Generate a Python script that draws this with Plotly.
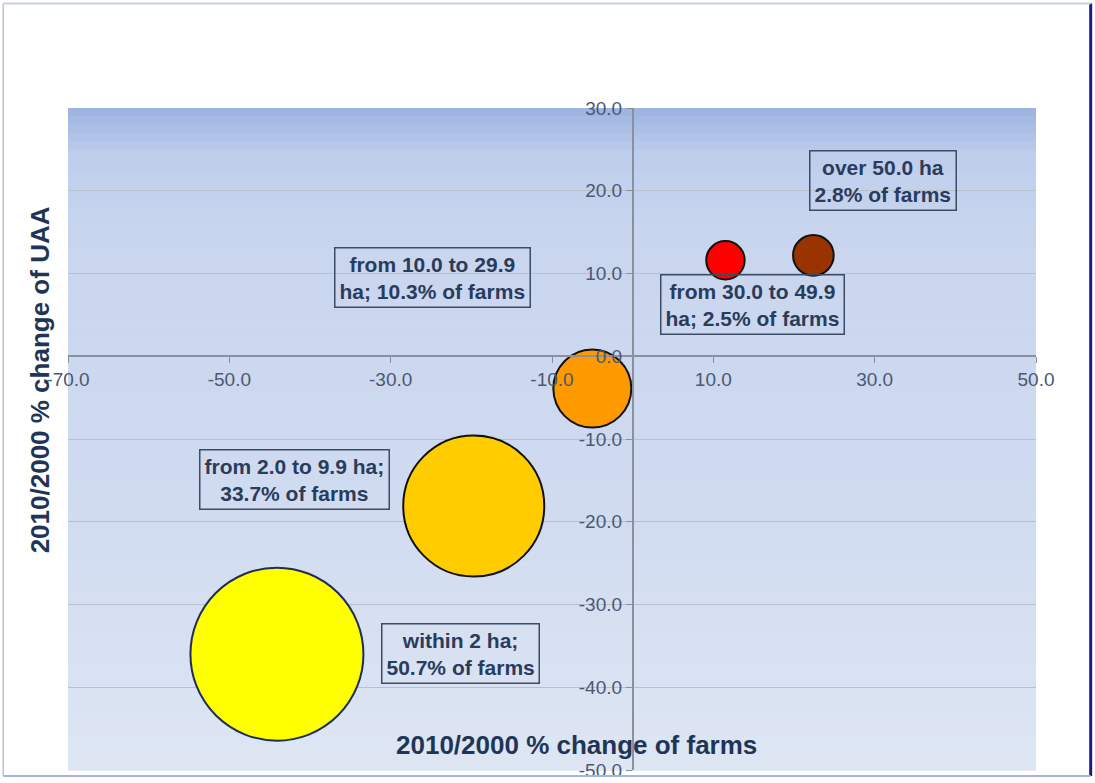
import plotly.graph_objects as go

# ---- data ----
groups = ["within 2 ha", "from 2.0 to 9.9 ha", "from 10.0 to 29.9 ha",
          "from 30.0 to 49.9 ha", "over 50.0 ha"]
farm_change = [-44.1, -19.7, -5.0, 11.5, 22.4]      # 2010/2000 % change of farms
uaa_change = [-36.0, -18.1, -3.9, 11.6, 12.2]       # 2010/2000 % change of UAA
farm_share = [50.7, 33.7, 10.3, 2.5, 2.8]           # % of farms (bubble size)
colors = ["#FFFF00", "#FFCC00", "#FF9900", "#FF0000", "#993300"]
outlines = ["#1F2D5A", "#111111", "#111111", "#111111", "#111111"]

label_texts = ["within 2 ha;<br>50.7% of farms",
               "from 2.0 to 9.9 ha;<br>33.7% of farms",
               "from 10.0 to 29.9<br>ha; 10.3% of farms",
               "from 30.0 to 49.9<br>ha; 2.5% of farms",
               "over 50.0 ha<br>2.8% of farms"]
label_x = [-21.3, -41.9, -24.8, 14.8, 31.0]
label_y = [-35.9, -14.9, 9.5, 6.3, 21.2]

x_ticks = [-70, -50, -30, -10, 10, 30, 50]
x_ticklabels = ["-70.0", "-50.0", "-30.0", "-10.0", "10.0", "30.0", "50.0"]
y_ticks = [30, 20, 10, 0, -10, -20, -30, -40, -50]
y_ticklabels = ["30.0", "20.0", "10.0", "0.0", "-10.0", "-20.0", "-30.0", "-40.0", "-50.0"]

x_range = [-70, 50]
y_range = [-50, 30]

fig = go.Figure()

fig.add_trace(go.Scatter(
    x=farm_change, y=uaa_change, mode="markers",
    marker=dict(size=farm_share, sizemode="area",
                sizeref=2 * 50.7 / (173 ** 2),
                color=colors, opacity=1,
                line=dict(color=outlines, width=2)),
    text=groups, hoverinfo="text", showlegend=False))

# ---- background gradient (plot area) ----
def lerp(c1, c2, t):
    return tuple(round(a + (b - a) * t) for a, b in zip(c1, c2))

stops = [(0.0, (155, 179, 225)), (0.07, (190, 205, 236)), (0.18, (200, 213, 238)),
         (0.6, (208, 219, 240)), (1.0, (222, 230, 243))]
shapes = []
n = 80
for i in range(n):
    t = (i + 0.5) / n
    for k in range(len(stops) - 1):
        if stops[k][0] <= t <= stops[k + 1][0]:
            tt = (t - stops[k][0]) / (stops[k + 1][0] - stops[k][0])
            c = lerp(stops[k][1], stops[k + 1][1], tt)
            break
    y1 = 1 - i / n
    y0 = 1 - (i + 1) / n
    shapes.append(dict(type="rect", xref="paper", yref="paper", x0=0, x1=1,
                       y0=y0 - 0.001, y1=y1, layer="below",
                       line=dict(width=0), fillcolor="rgb(%d,%d,%d)" % c))

# outer frame lines
shapes += [
    dict(type="line", xref="paper", yref="paper", x0=-0.067, x1=-0.067, y0=-0.009, y1=1.158,
         line=dict(color="#A0A4B0", width=1), layer="above"),
    dict(type="line", xref="paper", yref="paper", x0=1.0565, x1=1.0565, y0=-0.009, y1=1.158,
         line=dict(color="#1A1A8C", width=3), layer="above"),
    dict(type="line", xref="paper", yref="paper", x0=-0.067, x1=1.0565, y0=-0.009, y1=-0.009,
         line=dict(color="#A8B4E0", width=2), layer="above"),
    dict(type="line", xref="paper", yref="paper", x0=-0.067, x1=1.0565, y0=1.158, y1=1.158,
         line=dict(color="#C8D0E8", width=2), layer="above"),
]

annotations = []
for t, x, y in zip(label_texts, label_x, label_y):
    annotations.append(dict(x=x, y=y, xref="x", yref="y", text=t, showarrow=False,
                            font=dict(family="Liberation Sans, Arial", size=21,
                                      color="#2A3C5C", weight="bold"),
                            align="center", bordercolor="#3C4B66", borderwidth=1.5,
                            borderpad=4, bgcolor="rgba(0,0,0,0)"))

annotations.append(dict(x=0.525, y=0.038, xref="paper", yref="paper",
                        xanchor="center", yanchor="middle",
                        text="<b>2010/2000 % change of farms</b>", showarrow=False,
                        font=dict(family="Liberation Sans, Arial", size=26, color="#1F3556")))
annotations.append(dict(x=-0.029, y=0.59, xref="paper", yref="paper",
                        xanchor="center", yanchor="middle",
                        text="<b>2010/2000 % change of UAA</b>", showarrow=False, textangle=-90,
                        font=dict(family="Liberation Sans, Arial", size=26, color="#1F3556")))

axis_font = dict(family="Liberation Sans, Arial", size=19, color="#4A5870")

fig.update_layout(
    width=1095, height=783,
    margin=dict(l=68, r=59, t=108, b=13, autoexpand=False),
    paper_bgcolor="white", plot_bgcolor="rgba(0,0,0,0)",
    shapes=shapes, annotations=annotations,
    xaxis=dict(range=x_range, tickvals=x_ticks, ticktext=x_ticklabels, automargin=False,
               showgrid=False, zeroline=False, showline=True, linecolor="#8A909C",
               linewidth=1.5, anchor="free", position=(0 - y_range[0]) / (y_range[1] - y_range[0]),
               ticks="outside", ticklen=6, tickcolor="#8A909C", tickfont=axis_font),
    yaxis=dict(range=y_range, tickvals=y_ticks, ticktext=y_ticklabels, automargin=False,
               showgrid=True, gridcolor="#B8C0CC", gridwidth=1, zeroline=False,
               showline=True, linecolor="#8A909C", linewidth=1.5, anchor="free",
               position=(0 - x_range[0]) / (x_range[1] - x_range[0]),
               ticks="outside", ticklen=6, tickcolor="#8A909C", tickfont=axis_font),
)

fig.write_html("out.html", config={"displayModeBar": False},
               post_script="document.body.style.margin='0px';document.body.style.overflow='hidden';")
